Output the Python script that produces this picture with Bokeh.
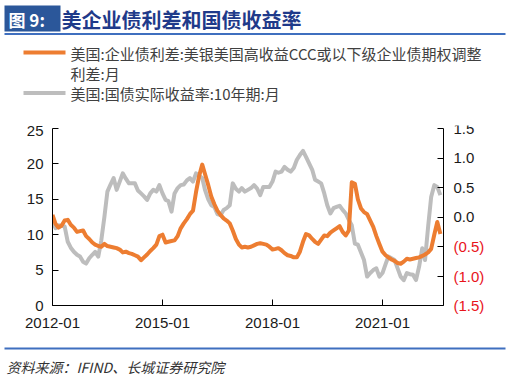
import pandas as pd
from datetime import datetime
from bokeh.plotting import figure
from bokeh.layouts import column, row
from bokeh.models import Range1d, LinearAxis, FixedTicker, DatetimeTickFormatter
from bokeh.core.properties import value
from bokeh.embed import file_html
from bokeh.resources import INLINE

# ---------------- data ----------------
dates = pd.date_range("2012-01-01", periods=128, freq="MS")

spread_ccc = [
    12.8, 11.5, 11.0, 11.3, 12.0, 12.1, 11.4, 11.0, 10.4, 10.5, 10.6, 9.8,
    9.4, 8.9, 8.6, 8.4, 8.3, 8.7, 8.4, 8.3, 8.2, 8.1, 7.9, 7.5,
    7.6, 7.4, 7.3, 7.1, 6.9, 6.4, 6.8, 7.2, 7.7, 8.1, 8.6, 9.8,
    10.0, 8.9, 9.0, 9.1, 9.2, 9.8, 10.9, 11.6, 12.2, 12.9, 13.4, 16.0,
    18.3, 19.9, 18.5, 17.0, 15.4, 14.3, 13.4, 12.8, 12.3, 12.0, 11.6, 10.6,
    9.4, 8.6, 8.2, 8.3, 8.2, 8.3, 8.5, 8.7, 8.8, 8.7, 8.6, 8.3,
    7.9, 8.0, 8.1, 7.8, 7.4, 7.1, 7.0, 6.8, 6.8, 7.6, 9.0, 10.1,
    9.9, 9.4, 9.0, 8.7, 9.3, 9.9, 9.8, 10.3, 10.6, 10.9, 11.2, 10.4,
    9.9, 10.6, 17.4, 17.2, 15.0, 13.7, 13.2, 12.9, 12.0, 11.1, 9.8, 8.7,
    7.6, 7.1, 6.8, 6.5, 6.3, 6.0, 5.9, 6.2, 6.6, 6.5, 6.6, 6.7,
    6.8, 7.0, 7.2, 7.5, 8.0, 10.0, 11.8, 10.1,
]

real_yield_10y = [
    -0.08, -0.19, -0.14, -0.15, -0.16, -0.42, -0.52, -0.59, -0.64, -0.67, -0.76, -0.79,
    -0.70, -0.64, -0.59, -0.67, -0.40, 0.00, 0.43, 0.55, 0.66, 0.46, 0.60, 0.74,
    0.65, 0.57, 0.57, 0.57, 0.45, 0.40, 0.35, 0.29, 0.40, 0.46, 0.43, 0.54,
    0.40, 0.29, 0.27, 0.09, 0.40, 0.49, 0.54, 0.55, 0.62, 0.66, 0.60, 0.74,
    0.70, 0.66, 0.45, 0.30, 0.20, 0.17, 0.05, 0.03, 0.12, 0.15, 0.20, 0.57,
    0.48, 0.43, 0.49, 0.43, 0.46, 0.49, 0.54, 0.48, 0.37, 0.51, 0.51, 0.51,
    0.60, 0.77, 0.75, 0.77, 0.85, 0.80, 0.77, 0.83, 0.97, 1.05, 1.12, 1.02,
    0.91, 0.80, 0.63, 0.60, 0.57, 0.40, 0.20, 0.06, 0.15, 0.17, 0.19, 0.12,
    0.06, -0.05, -0.14, -0.45, -0.47, -0.60, -0.73, -1.01, -0.95, -0.90, -0.87, -1.01,
    -0.95, -0.80, -0.67, -0.70, -0.73, -0.87, -1.01, -1.07, -0.95, -0.97, -0.98, -1.07,
    -0.84, -0.53, -0.73, -0.16, 0.34, 0.54, 0.51, 0.37,
]

x_tick_labels = ["2012-01", "2015-01", "2018-01", "2021-01"]
left_ticks = [0, 5, 10, 15, 20, 25]
right_ticks = [-1.5, -1.0, -0.5, 0.0, 0.5, 1.0, 1.5]

title_tag = "图 9:"
title_text = "美企业债利差和国债收益率"
legend_orange_1 = "美国:企业债利差:美银美国高收益CCC或以下级企业债期权调整"
legend_orange_2 = "利差:月"
legend_grey = "美国:国债实际收益率:10年期:月"
source_text = "资料来源：IFIND、长城证券研究院"

# ---------------- styling / layout ----------------
ORANGE = "#ED7D31"
GREY = "#BDBDBD"
BLUE_BOX = "#2B579A"
BLUE_TEXT = "#1F3A8A"
BLUE_LINE = "#3F6FBF"
TXT = "#1a1a1a"
RED = "#E8141B"
NUM_FONT = "Liberation Sans"
CJK_FONT = "Noto Sans CJK SC"

W = 508
HEADER_H = 125          # header band (title + legend)
MAIN_H = 213            # chart band
FOOTER_H = 376 - HEADER_H - MAIN_H
FRAME_L, FRAME_R = 52, 443
FRAME_T, FRAME_B = 3, 180   # inside chart band
RIGHT_W = W - FRAME_R - 5


def no_align(f):
    try:
        f.frame_align = False
        return True
    except AttributeError:
        return False


def blank(width, height, x_range, y_range):
    f = figure(width=width, height=height, x_range=x_range, y_range=y_range,
               output_backend="svg", toolbar_location=None,
               x_axis_location=None, y_axis_location=None,
               min_border=0, min_border_left=0, min_border_right=0,
               min_border_top=0, min_border_bottom=0)
    f.outline_line_color = None
    f.xgrid.visible = False
    f.ygrid.visible = False
    f.background_fill_color = "white"
    f.border_fill_color = "white"
    return f


# ---------------- header ----------------
hd = blank(W, HEADER_H, Range1d(0, W), Range1d(HEADER_H, 0))
no_align(hd)
hd.quad(left=[4], right=[60], top=[5], bottom=[31], fill_color=BLUE_BOX, line_color=None)
hd.text(x=[8], y=[18.5], text=[title_tag], text_color="white",
        text_font=value(CJK_FONT), text_font_style="bold", text_font_size="17px",
        text_baseline="middle", text_align="left")
hd.text(x=[61], y=[18.5], text=[title_text], text_color=BLUE_TEXT,
        text_font=value(CJK_FONT), text_font_style="bold", text_font_size="20px",
        text_baseline="middle", text_align="left")
hd.segment(x0=[4], x1=[505], y0=[33.5], y1=[33.5], line_color=BLUE_LINE, line_width=2)
hd.segment(x0=[23, 23], x1=[65, 65], y0=[52, 92.5], y1=[52, 92.5],
           line_color=[ORANGE, GREY], line_width=4)
hd.text(x=[70, 70, 70], y=[53, 73, 93],
        text=[legend_orange_1, legend_orange_2, legend_grey],
        text_color="#404040", text_font=value(CJK_FONT), text_font_size="15px",
        text_baseline="middle", text_align="left")

# ---------------- main chart ----------------
p = figure(width=FRAME_R + 5, height=MAIN_H, x_axis_type="datetime",
           x_range=Range1d(datetime(2012, 1, 1), datetime(2022, 9, 1)),
           y_range=Range1d(0, 25),
           output_backend="svg", toolbar_location=None,
           min_border_left=FRAME_L, min_border_right=5,
           min_border_top=FRAME_T, min_border_bottom=MAIN_H - FRAME_B)
p.outline_line_color = None
p.xgrid.visible = False
p.ygrid.visible = False
p.background_fill_color = "white"
p.border_fill_color = "white"
p.extra_y_ranges = {"right": Range1d(right_ticks[0], right_ticks[-1])}
no_align(p)

xa = p.xaxis[0]
xa.ticker = FixedTicker(ticks=[pd.Timestamp(s + "-01").timestamp() * 1000 for s in x_tick_labels])
fmt = "%Y-%m"
xa.formatter = DatetimeTickFormatter(years=fmt, months=fmt, days=fmt, hours=fmt,
                                     minutes=fmt, seconds=fmt, milliseconds=fmt,
                                     microseconds=fmt, hourmin=fmt, minsec=fmt)
ya = p.yaxis[0]
ya.ticker = FixedTicker(ticks=left_ticks)
ra = LinearAxis(y_range_name="right", ticker=FixedTicker(ticks=right_ticks))
p.add_layout(ra, "right")

for ax in (xa, ya, ra):
    ax.axis_line_color = "black"
    ax.axis_line_width = 1
    ax.major_tick_line_color = "black"
    ax.major_tick_in = 6
    ax.major_tick_out = 0
    ax.minor_tick_line_color = None
    ax.major_label_text_font = NUM_FONT
    ax.major_label_text_font_size = "15px"
    ax.major_label_text_color = TXT
xa.major_label_standoff = 12
ya.major_label_standoff = 9
ra.major_label_text_color = None
ra.major_label_text_font_size = "0px"
ra.major_label_standoff = 0

p.line(dates, real_yield_10y, y_range_name="right", line_color=GREY,
       line_width=4, line_join="round")
p.line(dates, spread_ccc, line_color=ORANGE, line_width=4, line_join="round")

# ---------------- right-axis labels (negatives red, in parentheses) ----------------
ppu = (FRAME_B - FRAME_T) / (right_ticks[-1] - right_ticks[0])
rp_tmp = None
rp = blank(RIGHT_W, MAIN_H, Range1d(0, RIGHT_W), Range1d(-1, 1))
if no_align(rp):
    # own frame spans the whole band: widen the range so the scale matches the chart
    rp.y_range = Range1d(right_ticks[0] - (MAIN_H - FRAME_B) / ppu,
                         right_ticks[-1] + FRAME_T / ppu)
else:
    rp.y_range = Range1d(right_ticks[0], right_ticks[-1])
r_text = ["(%.1f)" % abs(t) if t < 0 else "%.1f" % t for t in right_ticks]
r_color = [RED if t < 0 else TXT for t in right_ticks]
rp.text(x=[5] * len(right_ticks), y=right_ticks, text=r_text, text_color=r_color,
        text_font=value(NUM_FONT), text_font_size="15px",
        text_baseline="middle", text_align="left")

# ---------------- footer ----------------
ft = blank(W, FOOTER_H, Range1d(0, W), Range1d(FOOTER_H, 0))
no_align(ft)
ft.segment(x0=[4], x1=[505], y0=[10], y1=[10], line_color=BLUE_LINE, line_width=2)
ft.text(x=[6], y=[28], text=[source_text], text_color="#333333",
        text_font=value(CJK_FONT), text_font_style="italic", text_font_size="14px",
        text_baseline="middle", text_align="left")

layout = column(hd, row(p, rp, spacing=0), ft, spacing=0)
open("out.html", "w").write(file_html(layout, INLINE))
